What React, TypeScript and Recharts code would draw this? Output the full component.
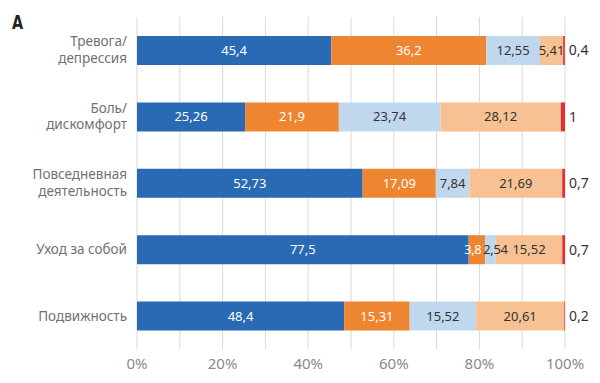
import { Bar, BarChart, CartesianGrid, LabelList, XAxis, YAxis } from "recharts";

const categories = [
  "Тревога/\nдепрессия",
  "Боль/\nдискомфорт",
  "Повседневная\nдеятельность",
  "Уход за собой",
  "Подвижность",
];
const level1 = [45.4, 25.26, 52.73, 77.5, 48.4];
const level2 = [36.2, 21.9, 17.09, 3.8, 15.31];
const level3 = [12.55, 23.74, 7.84, 2.54, 15.52];
const level4 = [5.41, 28.12, 21.69, 15.52, 20.61];
const level5 = [0.4, 1, 0.7, 0.7, 0.2];
const gridTicks = [0, 10, 20, 30, 40, 50, 60, 70, 80, 90, 100];
const labelTicks = [0, 20, 40, 60, 80, 100];

const data = categories.map((name, i) => ({
  name,
  l1: level1[i],
  l2: level2[i],
  l3: level3[i],
  l4: level4[i],
  l5: level5[i],
}));

const font = "'Noto Sans', sans-serif";
const fmt = (v: any) => String(v).replace(".", ",");

const CategoryTick = (props: any) => {
  const { x, y, payload } = props;
  const lines = String(payload.value).split("\n");
  const first = lines.length > 1 ? -4 : 5;
  return (
    <g>
      {lines.map((l, i) => (
        <text
          key={i}
          x={x}
          y={y + first + i * 16.5}
          textAnchor='end'
          fill='#727272'
          fontSize={13.5}
          fontFamily={font}
        >
          {l}
        </text>
      ))}
    </g>
  );
};

// small segments push their labels apart a little, like the original
const makeLabel = (color: string, nudge: number) => (props: any) => {
  const { x, y, width, height, value } = props;
  const dx = width < 20 ? nudge : 0;
  return (
    <text
      x={x + width / 2 + dx}
      y={y + height / 2}
      dy='0.35em'
      textAnchor='middle'
      fill={color}
      fontSize={13}
      fontFamily={font}
      letterSpacing={width < 20 ? -0.4 : 0}
    >
      {fmt(value)}
    </text>
  );
};

const series = [
  { key: "l1", fill: "#2a69b3", text: "#ffffff", nudge: 0 },
  { key: "l2", fill: "#ee8531", text: "#ffffff", nudge: -4 },
  { key: "l3", fill: "#c0d8ee", text: "#333333", nudge: 5 },
  { key: "l4", fill: "#f8c194", text: "#333333", nudge: 0 },
];

export default function App() {
  return (
    <div style={{ position: "absolute", left: 0, top: 0, width: 600, height: 383, background: "#fff" }}>
      <div
        style={{
          position: "absolute",
          left: 12,
          top: 12,
          fontFamily: "'Liberation Sans Narrow', 'DejaVu Sans Condensed', sans-serif",
          fontWeight: 700,
          fontSize: 20,
          color: "#222",
          lineHeight: 1,
          transform: "scaleX(0.8)",
          transformOrigin: "left top",
        }}
      >
        A
      </div>
      <BarChart
        width={600}
        height={383}
        data={data}
        layout='vertical'
        barSize={29}
        margin={{ top: 17, right: 35, bottom: 9, left: 0 }}
      >
        <CartesianGrid horizontal={false} stroke='#d9d9d9' />
        <XAxis
          type='number'
          domain={[0, 100]}
          allowDataOverflow
          ticks={gridTicks}
          interval={0}
          tickFormatter={(v: number) => (labelTicks.includes(v) ? `${v}%` : "")}
          axisLine={false}
          tickLine={false}
          tickSize={0}
          tickMargin={9}
          height={25}
          tick={{ fill: "#8a8a8a", fontSize: 15, fontFamily: font }}
        />
        <YAxis
          type='category'
          dataKey='name'
          width={137}
          axisLine={false}
          tickLine={false}
          tickSize={0}
          tickMargin={10}
          tick={<CategoryTick />}
        />
        {series.map((s) => (
          <Bar key={s.key} dataKey={s.key} stackId='a' fill={s.fill} isAnimationActive={false}>
            <LabelList dataKey={s.key} content={makeLabel(s.text, s.nudge)} />
          </Bar>
        ))}
        <Bar dataKey='l5' stackId='a' fill='#e52e36' isAnimationActive={false}>
          <LabelList
            dataKey='l5'
            position='right'
            offset={4}
            formatter={fmt}
            fill='#333333'
            fontSize={14}
            fontFamily={font}
          />
        </Bar>
      </BarChart>
    </div>
  );
}
